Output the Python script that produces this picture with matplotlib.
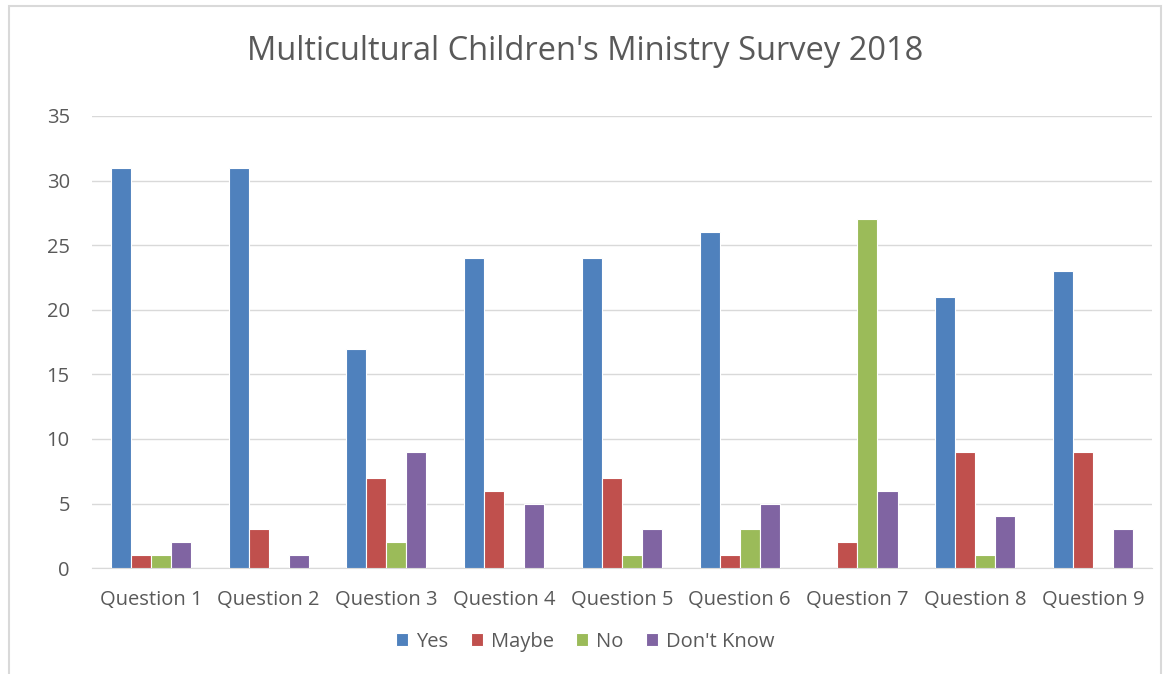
import matplotlib.pyplot as plt
import numpy as np
from matplotlib.patches import Rectangle

questions = ["Question 1", "Question 2", "Question 3", "Question 4", "Question 5",
             "Question 6", "Question 7", "Question 8", "Question 9"]
yes = [31, 31, 17, 24, 24, 26, 0, 21, 23]
maybe = [1, 3, 7, 6, 7, 1, 2, 9, 9]
no = [1, 0, 2, 0, 1, 3, 27, 1, 0]
dont_know = [2, 1, 9, 5, 3, 5, 6, 4, 3]

series = [("Yes", yes, "#4F81BD"), ("Maybe", maybe, "#C0504D"),
          ("No", no, "#9BBB59"), ("Don't Know", dont_know, "#8064A2")]

plt.rcParams['font.family'] = ['Open Sans', 'DejaVu Sans']
text_color = "#595959"

fig = plt.figure(figsize=(11.66, 6.74), dpi=100)
ax = fig.add_axes([0.0789, 0.157, 0.909, 0.671])

x = np.arange(len(questions))
w = 0.17
for i, (name, vals, col) in enumerate(series):
    ax.bar(x + (i - 1.5) * w, vals, w, color=col, edgecolor="white",
           linewidth=0.8, label=name, zorder=3)

ax.set_xlim(-0.5, len(questions) - 0.5)
ax.set_ylim(0, 35)
ax.set_yticks(range(0, 36, 5))
ax.set_xticks(x)
ax.set_xticklabels(questions)
ax.tick_params(axis="both", length=0, labelsize=14.5, colors=text_color)
ax.tick_params(axis="x", pad=16)
ax.tick_params(axis="y", pad=16)
ax.grid(axis="y", color="#D9D9D9", linewidth=1, zorder=0)
for s in ["top", "right", "left"]:
    ax.spines[s].set_visible(False)
ax.spines["bottom"].set_color("#D9D9D9")

fig.text(0.502, 0.924, "Multicultural Children's Ministry Survey 2018",
         ha="center", va="center", fontsize=23.5, color=text_color)

leg = fig.legend(loc="center", bbox_to_anchor=(0.502, 0.048), ncol=4,
                 frameon=False, fontsize=14.5, handlelength=0.6, handleheight=0.6,
                 columnspacing=1.1, handletextpad=0.4)
for t in leg.get_texts():
    t.set_color(text_color)

fig.patches.append(Rectangle((9 / 1166, -0.05), (1161 - 9) / 1166, 1.05 - 6 / 674,
                             transform=fig.transFigure, fill=False,
                             edgecolor="#D9D9D9", linewidth=1.5))

fig.savefig("out.png", dpi=100)
